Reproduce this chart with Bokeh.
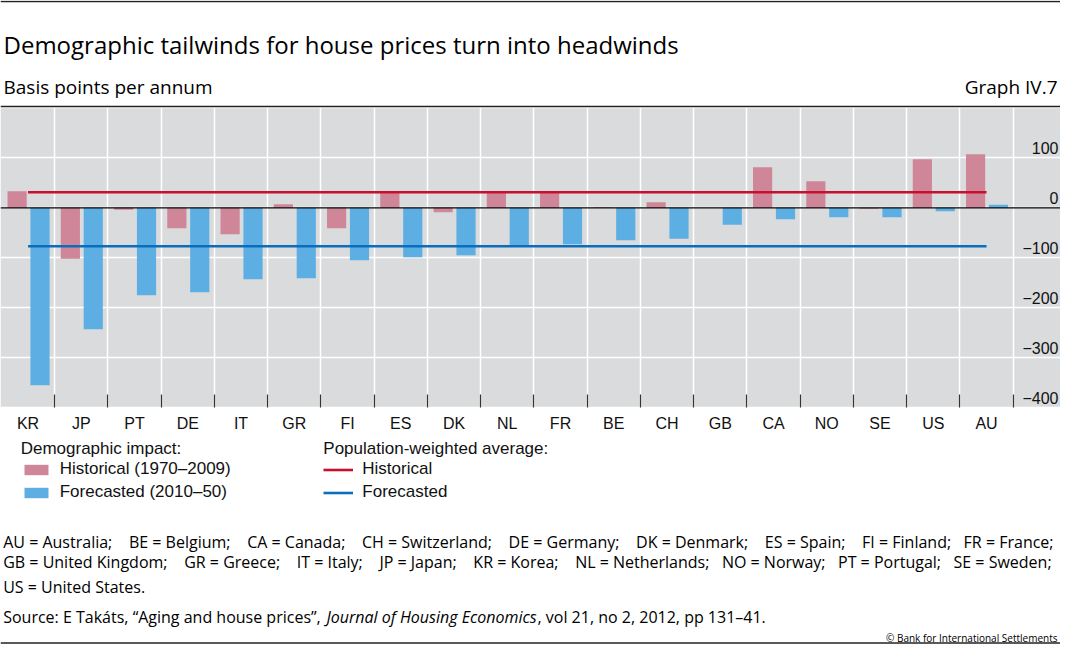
from bokeh.plotting import figure
from bokeh.models import (Range1d, FixedTicker, LinearAxis, CustomJSTickFormatter, Span, Label,
                          Legend, LegendItem, BoxAnnotation, ColumnDataSource)
from bokeh.embed import file_html
from bokeh.resources import INLINE

# ---------------- data ----------------
countries = ["KR", "JP", "PT", "DE", "IT", "GR", "FI", "ES", "DK", "NL",
             "FR", "BE", "CH", "GB", "CA", "NO", "SE", "US", "AU"]
historical = [33, -102, -4, -41, -53, 7, -41, 31, -9, 31,
              31, 1, 11, 0, 81, 53, -2, 97, 107]
forecasted = [-355, -243, -175, -169, -143, -141, -105, -99, -95, -77,
              -73, -65, -62, -34, -23, -19, -19, -7, 6]
avg_historical = 31
avg_forecasted = -77
y_ticks = [-400, -300, -200, -100, 0, 100]
y_grid = [-400, -300, -200, -100, 0, 100, 200]
y_min, y_max = -400, 200

title_text = "Demographic tailwinds for house prices turn into headwinds"
subtitle_text = "Basis points per annum"
graph_no = "Graph IV.7"
legend1_title = "Demographic impact:"
legend1_labels = ["Historical (1970\u20132009)", "Forecasted (2010\u201350)"]
legend2_title = "Population-weighted average:"
legend2_labels = ["Historical", "Forecasted"]
notes_line1 = ["AU = Australia;", "BE = Belgium;", "CA = Canada;", "CH = Switzerland;", "DE = Germany;",
               "DK = Denmark;", "ES = Spain;", "FI = Finland;", "FR = France;"]
notes_line2 = ["GB = United Kingdom;", "GR = Greece;", "IT = Italy;", "JP = Japan;", "KR = Korea;",
               "NL = Netherlands;", "NO = Norway;", "PT = Portugal;", "SE = Sweden;"]
notes_line3 = "US = United States."
source_parts = ["Source: E Tak\u00e1ts, \u201cAging and house prices\u201d,", "Journal of Housing Economics",
                ", vol 21, no 2, 2012, pp 131\u201341."]
copyright_text = "\u00a9 Bank for International Settlements"

# ---------------- style / layout ----------------
C_HIST = "#CF8698"
C_FORE = "#5DAEE2"
C_LHIST = "#C8102E"
C_LFORE = "#0A6EBD"
C_BG = "#DADBDD"
TXT = "#111111"
W, H = 1060, 644
CAT_PX = 53.25          # pixels per category
LEFT_PX = 0.9           # pixel of the first category boundary
Y_PX = 0.5              # pixels per basis point
TOP_PX = 107.3          # pixel row of y_max

X0 = -LEFT_PX / CAT_PX
X1 = X0 + W / CAT_PX
YT = y_max + TOP_PX / Y_PX
YB = YT - H / Y_PX


def sx(img_x):
    return img_x


def sy(img_y):
    return H - img_y


n = len(countries)
src = ColumnDataSource(dict(
    x_hist=[i + 0.295 for i in range(n)],
    x_fore=[i + 0.725 for i in range(n)],
    hist=historical,
    fore=forecasted,
))

p = figure(width=W, height=H, output_backend="svg", toolbar_location=None, title=None,
           x_range=Range1d(X0, X1), y_range=Range1d(YB, YT),
           min_border=0, min_border_left=0, min_border_right=0,
           min_border_top=0, min_border_bottom=0)
p.background_fill_color = "white"
p.border_fill_color = "white"
p.outline_line_color = None

# grey plotting area
p.add_layout(BoxAnnotation(bottom=y_min, top=y_max, fill_color=C_BG, fill_alpha=1,
                           line_color=None, level="image"))

# grids (white: invisible outside the grey area)
p.xgrid.ticker = FixedTicker(ticks=list(range(1, n + 1)))
p.ygrid.ticker = FixedTicker(ticks=y_grid)
for g in (p.xgrid, p.ygrid):
    g.grid_line_color = "white"
    g.grid_line_width = 1.5

# bars
rh = p.vbar(x="x_hist", top="hist", bottom=0, width=0.36, source=src,
            fill_color=C_HIST, line_color=None)
rf = p.vbar(x="x_fore", top="fore", bottom=0, width=0.36, source=src,
            fill_color=C_FORE, line_color=None)

p.add_layout(Span(location=0, dimension="width", line_color="black", line_width=1.2))

lh = p.line(x=[0.5, n - 0.5], y=[avg_historical, avg_historical], line_color=C_LHIST, line_width=2.6)
lf = p.line(x=[0.5, n - 0.5], y=[avg_forecasted, avg_forecasted], line_color=C_LFORE, line_width=2.6)

# y axis: labels right-aligned at the right edge, sitting just above their grid lines
yax = p.yaxis[0]
yax.ticker = FixedTicker(ticks=[t + 20 for t in y_ticks])
yax.major_label_overrides = {t + 20: ("\u2212" + str(abs(t)) if t < 0 else str(t)) for t in y_ticks}
yax.fixed_location = X0 + 1058 / CAT_PX
yax.major_label_standoff = 0
yax.major_tick_in = 0
yax.major_tick_out = 0
yax.minor_tick_in = 0
yax.minor_tick_out = 0
yax.axis_line_color = None
yax.major_label_text_font = "Liberation Sans"
yax.major_label_text_font_size = "16px"
yax.major_label_text_color = TXT

# x axis: country codes at category centres, below the grey area
xax = p.xaxis[0]
xax.fixed_location = y_min
xax.ticker = FixedTicker(ticks=[i + 0.5 for i in range(n)])
xax.formatter = CustomJSTickFormatter(args=dict(codes=countries),
                                      code="return codes[Math.floor(tick)] || '';")
xax.major_tick_in = 0
xax.major_tick_out = 0
xax.minor_tick_in = 0
xax.minor_tick_out = 0
xax.axis_line_color = None
xax.major_label_standoff = 7
xax.major_label_text_font = "Liberation Sans"
xax.major_label_text_font_size = "16px"
xax.major_label_text_color = TXT

# boundary tick marks inside the bottom of the grey area
bax = LinearAxis(ticker=FixedTicker(ticks=list(range(1, n + 1))), fixed_location=y_min,
                 major_tick_in=13, major_tick_out=0, minor_tick_in=0, minor_tick_out=0,
                 axis_line_color=None, major_tick_line_color="#333333", major_tick_line_width=1.2,
                 formatter=CustomJSTickFormatter(code="return '';"))
p.add_layout(bax, "below")

# legends
common = dict(border_line_color=None, background_fill_alpha=0, padding=0, margin=0,
              spacing=3, label_standoff=9, glyph_width=30, glyph_height=13, label_height=20,
              label_text_font="Liberation Sans", label_text_font_size="17px", label_text_color=TXT,
              title_text_font="Liberation Sans", title_text_font_size="17px",
              title_text_font_style="normal", title_text_color=TXT, title_standoff=0)
leg1 = Legend(items=[LegendItem(label=legend1_labels[0], renderers=[rh]),
                     LegendItem(label=legend1_labels[1], renderers=[rf])],
              title=legend1_title, location=(sx(20.7), sy(502)), **common)
leg2 = Legend(items=[LegendItem(label=legend2_labels[0], renderers=[lh]),
                     LegendItem(label=legend2_labels[1], renderers=[lf])],
              title=legend2_title, location=(sx(323.3), sy(502)), **common)
p.add_layout(leg1)
p.add_layout(leg2)


def add_label(text, img_x, img_y, size, align="left", style="normal", font="Open Sans"):
    p.add_layout(Label(x=sx(img_x), y=sy(img_y), x_units="screen", y_units="screen", text=text,
                       text_font=font, text_font_size=size, text_font_style=style,
                       text_align=align, text_baseline="alphabetic", text_color="black"))


def justified(entries, gap_counts):
    # join entries with runs of non-breaking spaces to imitate a justified line
    out = entries[0]
    for entry, k in zip(entries[1:], gap_counts):
        out += "\u00a0" * k + entry
    return out


# header
add_label(title_text, 3, 44.3, "24px")
add_label(subtitle_text, 3, 86, "19px")
add_label(graph_no, 1057, 86, "19px", align="right")

# horizontal rules
for img_y in (1.0, 106.0, 642.5):
    p.add_layout(Span(location=sy(img_y), location_units="screen", dimension="width",
                      line_color="#222222", line_width=1.5))

# footnotes
add_label(justified(notes_line1, [4, 4, 4, 4, 4, 4, 4, 3]), 2.7, 541, "16px")
add_label(justified(notes_line2, [4, 4, 4, 4, 4, 3, 3, 3]), 2.7, 561, "16px")
add_label(notes_line3, 2.7, 586.5, "16px")
src_x = [2.7, 326.0, 537.0]
add_label(source_parts[0], src_x[0], 616, "16px")
add_label(source_parts[1], src_x[1], 616, "16px", style="italic")
add_label(source_parts[2], src_x[2], 616, "16px")
add_label(copyright_text, 1057, 637, "10px", align="right")

open("out.html", "w").write(file_html(p, INLINE))
